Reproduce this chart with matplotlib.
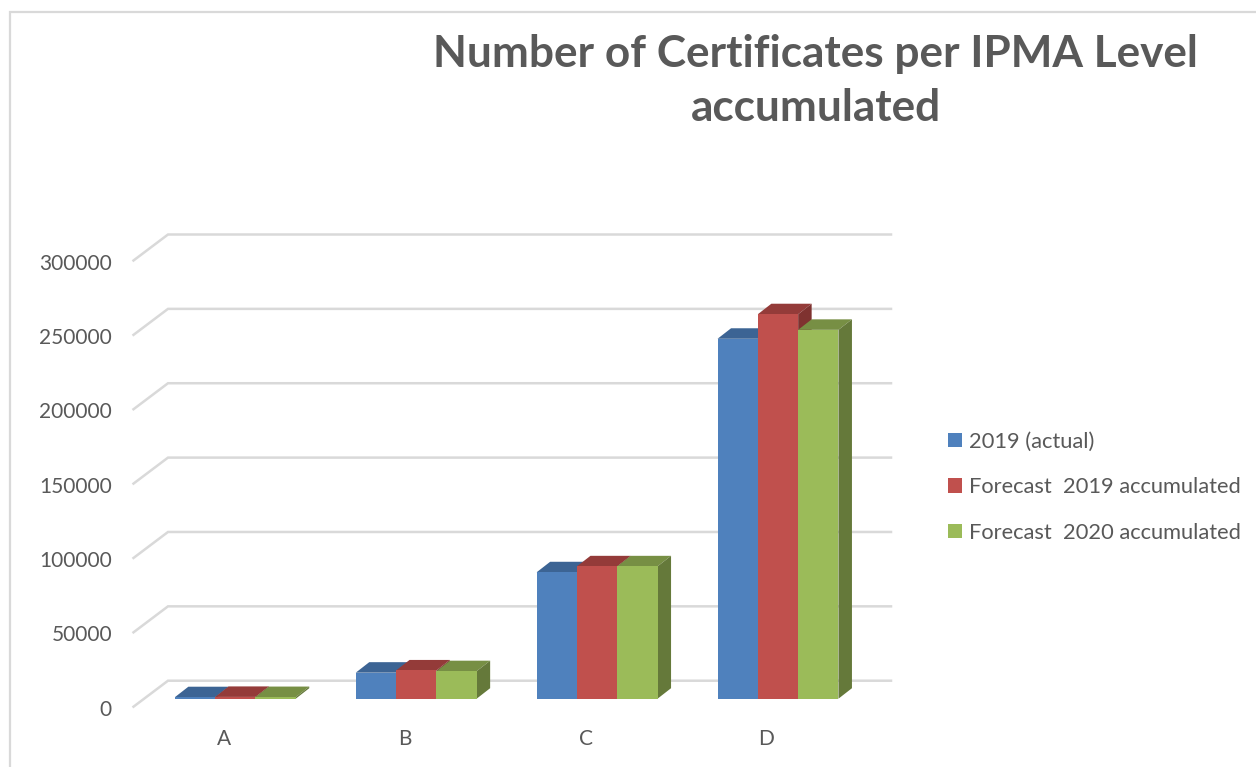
import numpy as np
import matplotlib
matplotlib.use("Agg")
import matplotlib.pyplot as plt

plt.rcParams['font.family'] = ['Lato', 'DejaVu Sans']

categories = ['A', 'B', 'C', 'D']
actual_2019 = [1000, 17500, 85000, 242000]
forecast_2019 = [1200, 19000, 89000, 258500]
forecast_2020 = [1100, 18500, 89000, 248000]
y_ticks = [0, 50000, 100000, 150000, 200000, 250000, 300000]
series_names = ['2019 (actual)', 'Forecast  2019 accumulated', 'Forecast  2020 accumulated']

W, H = 1256, 767
TEXT = '#595959'
GRID = '#d9d9d9'

# front, top, side shades of the Excel style columns
front_cols = ['#4f81bd', '#c0504d', '#9bbb59']
top_cols = ['#3c6494', '#943b39', '#778f44']
side_cols = ['#335680', '#7f3230', '#65793a']

fig = plt.figure(figsize=(W / 100, H / 100), dpi=100)
ax = fig.add_axes([0, 0, 1, 1])

# pixel layout of the reference -> data limits
px_cat = 180.9
px_val = 446.2 / 300000
x0, y0 = 235.3, 698.7
ax.set_xlim(-x0 / px_cat, (W - x0) / px_cat)
ax.set_ylim((y0 - H) / px_val, y0 / px_val)
ax.axis('off')

def dx(p):
    return p / px_cat

def dy(p):
    return p / px_val

# walls: gridlines with the diagonal on the floor side
left = dx(133.5 - x0)
corner = dx(168 - x0)
right = dx(891 - x0)
for t in y_ticks:
    ax.plot([left, corner, right], [t - dy(8), t + dy(18), t + dy(18)],
            color=GRID, lw=1.8, solid_joinstyle='miter', zorder=1)
    ax.text(dx(112 - x0), t - dy(9), str(t), ha='right', va='center_baseline',
            fontsize=15, color=TEXT)

bar_w = 40.3 / px_cat
depth_x, depth_y = dx(13.5), dy(10.5)
centers = np.arange(len(categories))
all_series = [actual_2019, forecast_2019, forecast_2020]

for c in centers:
    ax.text(c - dx(11.5), -dy(40), categories[c], ha='center', va='center',
            fontsize=15, color=TEXT)

handles = []
for s, vals in enumerate(all_series):
    xs = centers + (s - 1) * bar_w
    bars = ax.bar(xs, vals, width=bar_w, color=front_cols[s], zorder=3 + 2 * s,
                  label=series_names[s])
    handles.append(bars)
    for xc, v in zip(xs, vals):
        l, r = xc - bar_w / 2, xc + bar_w / 2
        ax.fill([l, r, r + depth_x, l + depth_x], [v, v, v + depth_y, v + depth_y],
                color=top_cols[s], lw=0, zorder=2 + 2 * s)
        ax.fill([r, r + depth_x, r + depth_x, r], [0, depth_y, v + depth_y, v],
                color=side_cols[s], lw=0, zorder=2 + 2 * s)

leg = fig.legend(handles=handles, loc='upper left',
                 bbox_to_anchor=(941 / W, 1 - 425 / H), frameon=False,
                 fontsize=15.75, labelcolor=TEXT, handlelength=0.65, handleheight=0.65,
                 handletextpad=0.33, labelspacing=1.17, borderpad=0.3, borderaxespad=0)

fig.text(815.5 / W, 1 - 81 / H, 'Number of Certificates per IPMA Level\naccumulated',
         ha='center', va='center', fontsize=31.8, fontweight='bold', color=TEXT,
         linespacing=1.44)

# chart area border, only left and top are in the crop
ax.plot([dx(10.5 - x0), dx(10.5 - x0), dx(W - x0)],
        [-dy(H - y0), dy(y0 - 11.5), dy(y0 - 11.5)], color=GRID, lw=1.6, zorder=1,
        solid_joinstyle='miter')

fig.savefig('out.png', dpi=100)
